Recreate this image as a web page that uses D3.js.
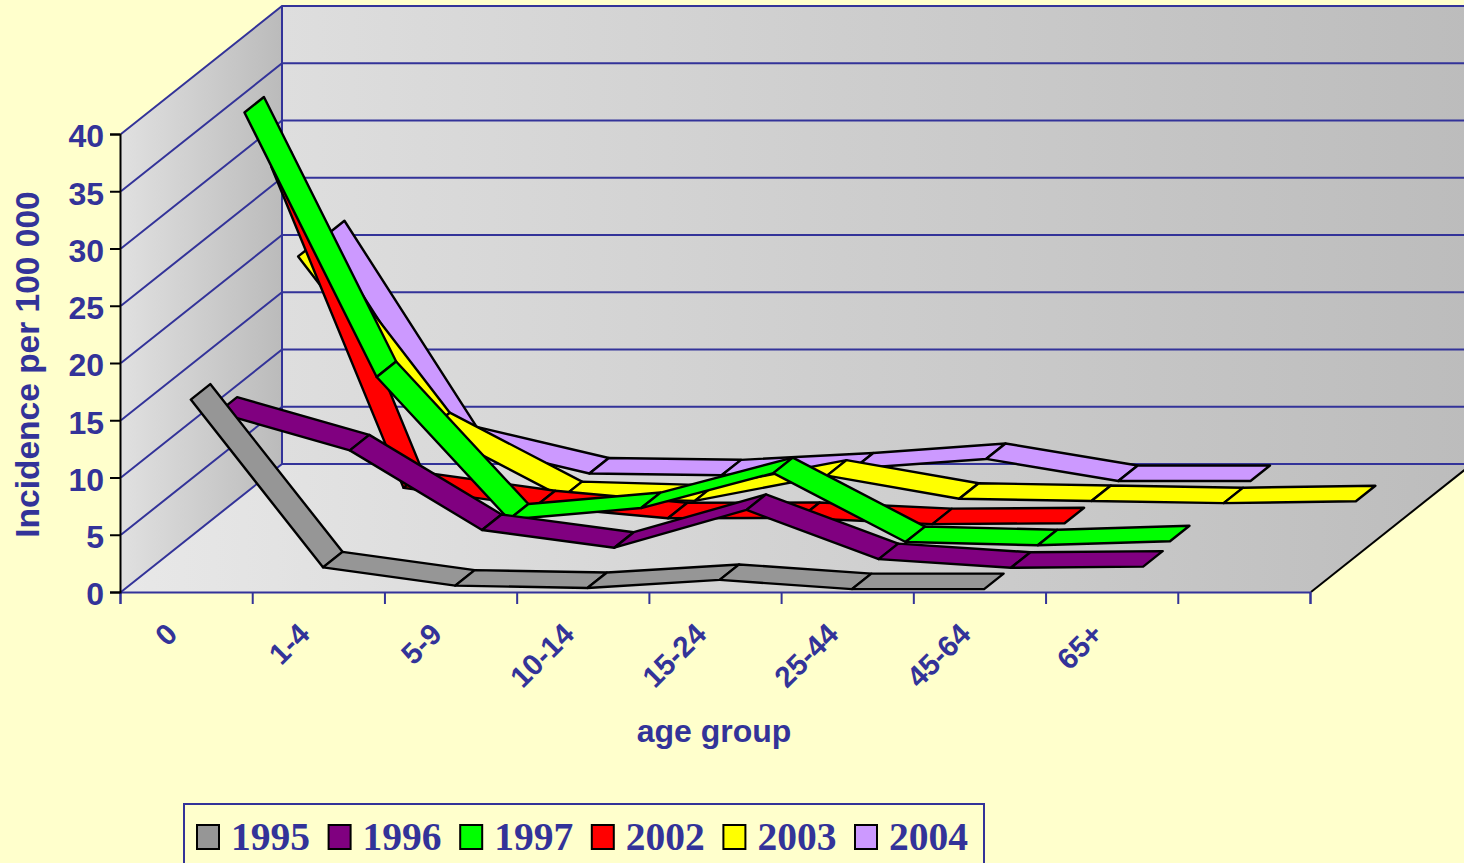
<!doctype html>
<html>
<head>
<meta charset="utf-8">
<style>
	html, body {
		margin: 0;
		padding: 0;
		background: #ffffcc;
		overflow: hidden;
	}
	text {
		font-family: "Liberation Sans", Arial, sans-serif;
		font-weight: bold;
		fill: #333399;
	}
	.legend-label {
		font-family: "Liberation Serif", "Times New Roman", serif;
		font-size: 41px;
	}
	.grid {
		stroke: #333399;
		stroke-width: 2px;
		fill: none;
	}
	.ribbon {
		stroke: #000;
		stroke-width: 2.4px;
		stroke-linejoin: round;
	}
</style>
<script src="https://d3js.org/d3.v7.min.js"></script>
</head>
<body>
<div id="canvas"></div>
<script>
	var categories = ["0", "1-4", "5-9", "10-14", "15-24", "25-44", "45-64", "65+", " "];
	var yTicks = [0, 5, 10, 15, 20, 25, 30, 35, 40];
	var years = ["1995", "1996", "1997", "2002", "2003", "2004"];
	var colors = ["#969696", "#800080", "#00ff00", "#ff0000", "#ffff00", "#cc99ff"];

	var values1995 = [16.55, 1.9, 0.3, 0.1, 0.8, 0, 0];
	var values1996 = [13.55, 10.25, 3.3, 1.75, 5.05, 0.75, 0, 0.1];
	var values1997 = [37.9, 14.8, 2.35, 3.35, 6.4, 0.38, 0.1, 0.45];
	var values2002 = [31.3, 3.25, 1.65, 0.6, 0.62, 0.08, 0.16];
	var values2003 = [21.6, 6.6, 0.58, 0.25, 2.46, 0.44, 0.24, 0.05, 0.22];
	var values2004 = [21.5, 3.5, 0.78, 0.62, 1.22, 2.05, 0.12, 0.12];
	var allValues = [values1995, values1996, values1997, values2002, values2003, values2004];

	var width = 1464,
		height = 863,
		plot = {left: 121, right: 1311, top: 134, bottom: 592},
		deep = {x: 161, y: 128};

	var svg = d3.select("#canvas")
		.append("svg")
		.attr("width", width)
		.attr("height", height)
		.style("display", "block");

	var scale_x = d3.scaleBand()
		.domain(categories)
		.range([plot.left, plot.right]);

	var scale_edges = d3.scaleLinear()
		.domain([0, categories.length])
		.range([plot.left, plot.right]);

	var scale_y = d3.scaleLinear()
		.domain([0, 40])
		.range([plot.bottom, plot.top]);

	// depth runs from 0 at the front of the floor to 1 at the back wall
	var depth_x = d3.scaleLinear().domain([0, 1]).range([0, deep.x]);
	var depth_y = d3.scaleLinear().domain([0, 1]).range([0, deep.y]);

	var project = function(cat, value, depth) {
		return [
			scale_x(cat) + scale_x.bandwidth() / 2 + depth_x(depth),
			scale_y(value) - depth_y(depth)
		];
	};

	var corner = function(edge, value, depth) {
		return [scale_edges(edge) + depth_x(depth), scale_y(value) - depth_y(depth)];
	};

	var outline = d3.line().curve(d3.curveLinearClosed);

	var defs = svg.append("defs");
	var add_gradient = function(id, from, to) {
		var g = defs.append("linearGradient").attr("id", id);
		g.append("stop").attr("offset", "0%").attr("stop-color", from);
		g.append("stop").attr("offset", "100%").attr("stop-color", to);
	};
	add_gradient("wall-back", "#dedede", "#bcbcbc");
	add_gradient("wall-left", "#e0e0e0", "#bbbbbb");
	add_gradient("wall-floor", "#e8e8e8", "#bcbcbc");

	// left wall, back wall, floor
	svg.append("path")
		.attr("fill", "url(#wall-left)")
		.attr("d", outline([corner(0, 0, 0), corner(0, 40, 0), corner(0, 40, 1), corner(0, 0, 1)]));
	svg.append("path")
		.attr("fill", "url(#wall-back)")
		.attr("d", outline([corner(0, 0, 1), corner(0, 40, 1), corner(9, 40, 1), corner(9, 0, 1)]));
	svg.append("path")
		.attr("fill", "url(#wall-floor)")
		.attr("d", outline([corner(0, 0, 0), corner(9, 0, 0), corner(9, 0, 1), corner(0, 0, 1)]));

	// gridlines run along the left wall and across the back wall
	svg.selectAll("path.grid")
		.data(yTicks)
	  .enter().append("path")
		.attr("class", "grid")
		.attr("d", d => d3.line()([corner(0, d, 0), corner(0, d, 1), corner(9, d, 1)]));

	svg.append("path")
		.attr("class", "grid")
		.attr("d", d3.line()([corner(0, 0, 1), corner(0, 40, 1)]));

	svg.append("path")
		.attr("fill", "none")
		.attr("stroke", "#000")
		.attr("stroke-width", 2)
		.attr("d", d3.line()([corner(9, 0, 0), corner(9, 0, 1)]));

	// ribbons, back series first and left to right inside a series
	var near = 0.137, far = 0.863;
	var segments = [];
	d3.range(years.length - 1, -1, -1).forEach(function(s) {
		var vals = allValues[s];
		d3.range(vals.length - 1).forEach(function(i) {
			segments.push({
				color: colors[s],
				points: [
					project(categories[i], vals[i], (s + near) / years.length),
					project(categories[i + 1], vals[i + 1], (s + near) / years.length),
					project(categories[i + 1], vals[i + 1], (s + far) / years.length),
					project(categories[i], vals[i], (s + far) / years.length)
				]
			});
		});
	});

	var axis_edges = d3.axisBottom(scale_edges)
		.ticks(categories.length)
		.tickSize(12)
		.tickFormat("");

	var g_edges = svg.append("g")
		.attr("transform", `translate(-1, ${plot.bottom})`)
		.call(axis_edges);
	g_edges.selectAll("path, line")
		.attr("stroke", "#333399")
		.attr("stroke-width", 2);

	svg.selectAll("path.ribbon")
		.data(segments)
	  .enter().append("path")
		.attr("class", "ribbon")
		.attr("fill", d => d.color)
		.attr("d", d => outline(d.points));

	var axis_y = d3.axisLeft(scale_y)
		.tickValues(yTicks)
		.tickSize(10)
		.tickPadding(6);

	var g_y = svg.append("g")
		.attr("transform", `translate(${plot.left - 1}, 0)`)
		.call(axis_y);
	g_y.selectAll("path, line")
		.attr("stroke", "#000")
		.attr("stroke-width", 2);
	g_y.selectAll("text")
		.attr("fill", "#333399")
		.attr("dy", "0.4em")
		.style("font-size", "32px");

	var axis_x = d3.axisBottom(scale_x)
		.tickSize(0)
		.tickPadding(0);

	var g_x = svg.append("g")
		.attr("transform", `translate(0, ${plot.bottom})`)
		.call(axis_x);
	g_x.select("path").remove();
	g_x.selectAll("text")
		.attr("y", 0)
		.attr("dy", 0)
		.attr("text-anchor", "end")
		.attr("transform", "translate(-8, 44) rotate(-45)")
		.style("font-size", "29.5px");

	svg.append("text")
		.attr("transform", "translate(39, 364.5) rotate(-90)")
		.attr("text-anchor", "middle")
		.style("font-size", "33.5px")
		.text("Incidence per 100 000");

	svg.append("text")
		.attr("x", 714)
		.attr("y", 742)
		.attr("text-anchor", "middle")
		.style("font-size", "32px")
		.text("age group");

	// legend
	var legend_x = d3.scalePoint()
		.domain(years)
		.range([197, 855]);

	svg.append("rect")
		.attr("x", 184)
		.attr("y", 804)
		.attr("width", 800)
		.attr("height", 80)
		.attr("fill", "none")
		.attr("stroke", "#333399")
		.attr("stroke-width", 2);

	var legend = svg.selectAll("g.legend")
		.data(years)
	  .enter().append("g")
		.attr("class", "legend")
		.attr("transform", d => `translate(${legend_x(d)}, 0)`);

	legend.append("rect")
		.attr("y", 825)
		.attr("width", 22)
		.attr("height", 24)
		.attr("fill", (d, i) => colors[i])
		.attr("stroke", "#000")
		.attr("stroke-width", 2);

	legend.append("text")
		.attr("class", "legend-label")
		.attr("x", 34)
		.attr("y", 850)
		.attr("textLength", 79)
		.attr("lengthAdjust", "spacingAndGlyphs")
		.text(d => d);
</script>
</body>
</html>
